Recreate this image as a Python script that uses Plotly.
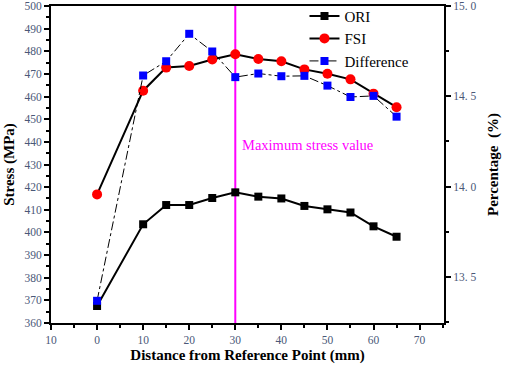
import plotly.graph_objects as go

distance = [0, 10, 15, 20, 25, 30, 35, 40, 45, 50, 55, 60, 65]
ori = [367.5, 403.6, 412.1, 412.1, 415.2, 417.7, 415.8, 415.0, 411.7, 410.2, 408.8, 402.7, 398.1]
fsi = [416.8, 462.6, 472.8, 473.5, 476.4, 478.7, 476.6, 475.6, 472.0, 470.1, 467.6, 461.3, 455.3]
difference = [13.367, 14.615, 14.694, 14.846, 14.748, 14.606, 14.626, 14.611, 14.613, 14.559, 14.496, 14.502, 14.387]

x_tickvals = [-10, 0, 10, 20, 30, 40, 50, 60, 70]
x_ticktext = ["10", "0", "10", "20", "30", "40", "50", "60", "70"]
y2_tickvals = [13.5, 14.0, 14.5, 15.0]
y2_ticktext = ["13. 5", "14. 0", "14. 5", "15. 0"]
max_x = 30
max_label = "Maximum stress value"

serif = "Liberation Serif, Times New Roman, serif"
tickcol = "#4a5878"

fig = go.Figure()
fig.add_trace(go.Scatter(x=distance, y=ori, name="ORI", mode="lines+markers",
                         line=dict(color="black", width=2),
                         marker=dict(symbol="square", size=8, color="black")))
fig.add_trace(go.Scatter(x=distance, y=fsi, name="FSI", mode="lines+markers",
                         line=dict(color="black", width=2),
                         marker=dict(symbol="circle", size=10, color="#ff0000")))
fig.add_trace(go.Scatter(x=distance, y=difference, name="Difference", mode="lines+markers",
                         yaxis="y2",
                         line=dict(color="black", width=1, dash="dashdot"),
                         marker=dict(symbol="square", size=8, color="#0000ff")))

fig.add_shape(type="line", xref="x", yref="paper", x0=max_x, x1=max_x, y0=0, y1=1,
              line=dict(color="#ff00ff", width=2), layer="below")
fig.add_annotation(x=max_x + 1.0, y=438.6, xref="x", yref="y", text=max_label,
                   showarrow=False, xanchor="left", yanchor="middle",
                   font=dict(family=serif, size=14.5, color="#ff00ff"))

axis_common = dict(showline=True, linecolor="black", linewidth=2, ticks="outside",
                   ticklen=5, tickwidth=1.5, tickcolor="black", showgrid=False, zeroline=False,
                   ticklabeloverflow="allow",
                   tickfont=dict(family=serif, size=11.5, color=tickcol))

fig.update_layout(
    width=505, height=373,
    margin=dict(l=51, r=61, t=6, b=50, autoexpand=False),
    paper_bgcolor="white", plot_bgcolor="white",
    showlegend=True,
    legend=dict(x=0.645, y=1.02, xanchor="left", yanchor="top", bgcolor="rgba(0,0,0,0)",
                font=dict(family=serif, size=15, color="black"), itemwidth=30,
                tracegroupgap=0),
    xaxis=dict(range=[-10, 75.3], tickvals=x_tickvals, ticktext=x_ticktext, mirror=True,
               minor=dict(ticks="outside", dtick=5, tick0=0, ticklen=3, tickcolor="black"),
               title=dict(text="<b>Distance from Reference Point (mm)</b>",
                          font=dict(family=serif, size=15, color="black"), standoff=5),
               **axis_common),
    yaxis=dict(range=[360, 500], dtick=10, tick0=360,
               minor=dict(ticks="outside", dtick=5, tick0=360, ticklen=3, tickcolor="black"),
               title=dict(text="<b>Stress (MPa)</b>",
                          font=dict(family=serif, size=15, color="black"), standoff=6),
               **axis_common),
    yaxis2=dict(range=[13.244, 15.0], overlaying="y", side="right",
                tickvals=y2_tickvals, ticktext=y2_ticktext,
                minor=dict(ticks="outside", dtick=0.25, tick0=13.5, ticklen=3, tickcolor="black"),
                title=dict(text="<b>Percentage  (%)</b>",
                           font=dict(family=serif, size=15, color="black"), standoff=12),
                **axis_common),
)

fig.write_html("out.html", config={"displayModeBar": False},
               post_script="document.body.style.margin='0';document.body.style.padding='0';")
